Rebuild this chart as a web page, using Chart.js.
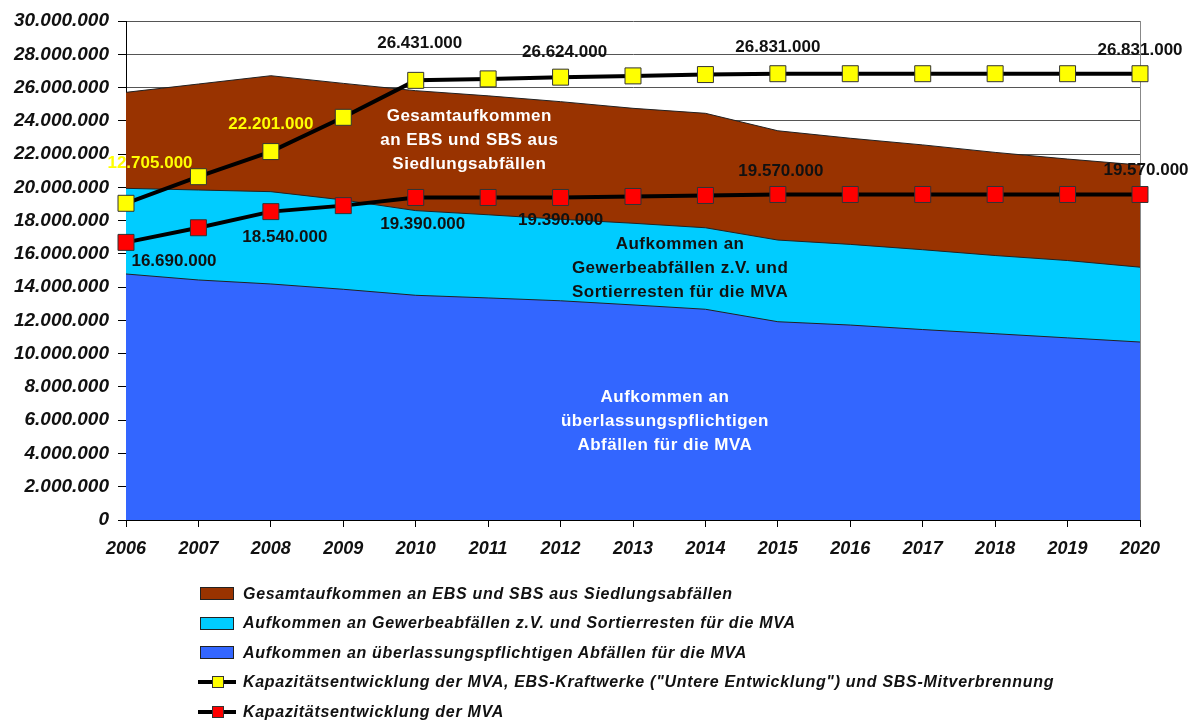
<!DOCTYPE html>
<html>
<head>
<meta charset="utf-8">
<script src="https://cdn.jsdelivr.net/npm/chart.js@4"></script>
<style>
  body { margin: 0; background: #fff; }
  #wrap { position: relative; width: 1193px; height: 720px; }
  #legend { position: absolute; left: 198px; top: 579px; font: italic bold 16px "Liberation Sans", Arial, sans-serif; letter-spacing: 0.7px; color: #111; }
  .row { height: 29.5px; display: flex; align-items: center; }
  .box { width: 32px; height: 11px; border: 1px solid #222; margin: 0 9px 0 2px; }
  .line { position: relative; width: 38px; height: 4px; background: #000; margin-right: 7px; }
  .line span { position: absolute; left: 14px; top: -4px; width: 10px; height: 10px; border: 1px solid #333; }
</style>
</head>
<body>
<div id="wrap">
  <canvas id="chart"></canvas>
  <div id="legend"></div>
</div>
<script>
const years = ['2006', '2007', '2008', '2009', '2010', '2011', '2012', '2013', '2014', '2015', '2016', '2017', '2018', '2019', '2020'];

const gesamtEbsSbs = [25710000, 26210000, 26710000, 26250000, 25810000, 25500000, 25150000, 24750000, 24450000, 23400000, 22950000, 22550000, 22100000, 21700000, 21340000];
const gewerbeSortier = [19940000, 19840000, 19740000, 19240000, 18600000, 18350000, 18080000, 17840000, 17570000, 16830000, 16570000, 16250000, 15900000, 15600000, 15200000];
const ueberlassung = [14790000, 14430000, 14190000, 13870000, 13510000, 13350000, 13180000, 12930000, 12670000, 11920000, 11720000, 11450000, 11200000, 10950000, 10700000];
const kapGesamt = [19040000, 20640000, 22150000, 24210000, 26431000, 26520000, 26624000, 26700000, 26780000, 26831000, 26831000, 26831000, 26831000, 26831000, 26831000];
const kapMva = [16690000, 17570000, 18540000, 18900000, 19390000, 19390000, 19390000, 19450000, 19510000, 19570000, 19570000, 19570000, 19570000, 19570000, 19570000];

const kapGesamtLabels = [[0, '12.705.000'], [2, '22.201.000'], [4, '26.431.000'], [6, '26.624.000'], [9, '26.831.000'], [14, '26.831.000']];
const kapMvaLabels = [[0, '16.690.000'], [2, '18.540.000'], [4, '19.390.000'], [6, '19.390.000'], [9, '19.570.000'], [14, '19.570.000']];

const legendNames = [
  'Gesamtaufkommen an EBS und SBS aus Siedlungsabfällen',
  'Aufkommen an Gewerbeabfällen z.V. und Sortierresten für die MVA',
  'Aufkommen an überlassungspflichtigen Abfällen für die MVA',
  'Kapazitätsentwicklung der MVA, EBS-Kraftwerke ("Untere Entwicklung") und SBS-Mitverbrennung',
  'Kapazitätsentwicklung der MVA'
];

const BROWN = '#993300', CYAN = '#00ccff', BLUE = '#3366ff', YELLOW = '#ffff00', RED = '#ff0000';
const FONT = '"Liberation Sans", Arial, sans-serif';

function dotted(v) {
  return String(v).replace(/\B(?=(\d{3})+(?!\d))/g, '.');
}

// label offsets in px from the point (yellow labels, red labels)
const yellowStyle = { 0: [24, -40, YELLOW], 2: [0, -27, YELLOW], 4: [4, -37, '#111'], 6: [4, -25, '#111'], 9: [0, -26, '#111'], 14: [0, -23, '#111'] };
const redStyle = { 0: [48, 19], 2: [14, 26], 4: [7, 27], 6: [0, 23], 9: [3, -23], 14: [6, -24] };

// text blocks inside the areas, anchored at (x index, y value)
const areaTexts = [
  { x: 4.74, y: 22800000, color: '#fff', lines: ['Gesamtaufkommen', 'an EBS und SBS aus', 'Siedlungsabfällen'] },
  { x: 7.65, y: 15150000, color: '#111', lines: ['Aufkommen an', 'Gewerbeabfällen z.V. und', 'Sortierresten für die MVA'] },
  { x: 7.44, y: 5950000, color: '#fff', lines: ['Aufkommen an', 'überlassungspflichtigen', 'Abfällen für die MVA'] }
];

const labelPlugin = {
  id: 'labels',
  afterDatasetsDraw(chart) {
    const ctx = chart.ctx;
    const xs = chart.scales.x, ys = chart.scales.y;
    ctx.save();
    ctx.textAlign = 'center';
    ctx.textBaseline = 'middle';
    ctx.font = 'bold 17px ' + FONT;
    ctx.letterSpacing = '0.5px';
    areaTexts.forEach(t => {
      const cx = xs.getPixelForValue(t.x);
      const cy = ys.getPixelForValue(t.y);
      ctx.fillStyle = t.color;
      t.lines.forEach((s, i) => ctx.fillText(s, cx, cy + (i - 1) * 24));
    });
    ctx.letterSpacing = '0px';
    ctx.font = 'bold 17px ' + FONT;
    const yMeta = chart.getDatasetMeta(0), rMeta = chart.getDatasetMeta(1);
    kapGesamtLabels.forEach(([i, s]) => {
      const p = yMeta.data[i], st = yellowStyle[i];
      ctx.fillStyle = st[2];
      ctx.fillText(s, p.x + st[0], p.y + st[1]);
    });
    kapMvaLabels.forEach(([i, s]) => {
      const p = rMeta.data[i], st = redStyle[i];
      ctx.fillStyle = '#111';
      ctx.fillText(s, p.x + st[0], p.y + st[1]);
    });
    ctx.restore();
  }
};

function area(label, data, color, order) {
  return { type: 'line', label, data, order, fill: 'origin', backgroundColor: color, borderColor: '#222', borderWidth: 1, pointRadius: 0, tension: 0 };
}
function capLine(label, data, color, order) {
  return {
    type: 'line', label, data, order, fill: false, clip: false,
    borderColor: '#000', borderWidth: 4, tension: 0,
    pointStyle: 'rect', pointRadius: 11.3, pointBackgroundColor: color, pointBorderColor: '#333', pointBorderWidth: 1
  };
}

new Chart(document.getElementById('chart'), {
  type: 'line',
  data: {
    labels: years,
    datasets: [
      capLine(legendNames[3], kapGesamt, YELLOW, 0),
      capLine(legendNames[4], kapMva, RED, 1),
      area(legendNames[2], ueberlassung, BLUE, 2),
      area(legendNames[1], gewerbeSortier, CYAN, 3),
      area(legendNames[0], gesamtEbsSbs, BROWN, 4)
    ]
  },
  options: {
    responsive: true,
    maintainAspectRatio: false,
    animation: false,
    layout: { padding: { top: 21, right: 53, left: 0, bottom: 0 } },
    plugins: { legend: { display: false }, tooltip: { enabled: false } },
    scales: {
      x: {
        offset: false,
        afterFit: s => { s.height = 200; },
        border: { color: '#000', width: 1 },
        grid: {
          color: c => c.index === years.length - 1 ? '#888' : 'rgba(0,0,0,0)',
          tickColor: '#000', tickLength: 7, drawOnChartArea: true
        },
        ticks: { color: '#111', padding: 11, maxRotation: 0, autoSkip: false, font: { family: FONT, size: 18, style: 'italic', weight: 'bold' } }
      },
      y: {
        min: 0, max: 30000000,
        afterFit: s => { s.width = 126; },
        border: { color: '#000', width: 1 },
        grid: { color: '#555', tickColor: '#000', tickLength: 8 },
        ticks: { stepSize: 2000000, color: '#111', padding: 9, callback: v => dotted(v), font: { family: FONT, size: 19, style: 'italic', weight: 'bold' } }
      }
    }
  },
  plugins: [labelPlugin]
});

// legend
const legend = document.getElementById('legend');
const legendIcons = [['box', BROWN], ['box', CYAN], ['box', BLUE], ['line', YELLOW], ['line', RED]];
legendNames.forEach((name, i) => {
  const row = document.createElement('div');
  row.className = 'row';
  const [kind, color] = legendIcons[i];
  const icon = document.createElement('div');
  icon.className = kind;
  if (kind === 'box') icon.style.background = color;
  else icon.innerHTML = `<span style="background:${color}"></span>`;
  const txt = document.createElement('span');
  txt.textContent = name;
  row.append(icon, txt);
  legend.appendChild(row);
});
</script>
</body>
</html>
